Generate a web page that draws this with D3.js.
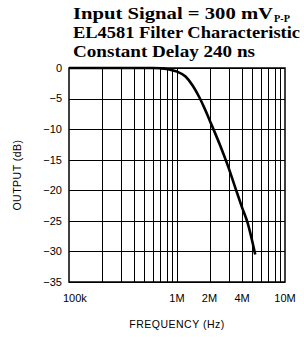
<!DOCTYPE html>
<html>
<head>
<meta charset="utf-8">
<script src="https://cdn.jsdelivr.net/npm/d3@7"></script>
<style>
  body { margin: 0; background: #fff; }
  text { fill: #000; }
</style>
</head>
<body>
<div id="chart"></div>
<script>
// chart data
let freqs = [1e5, 2e5, 4e5, 6e5, 7e5, 8e5, 9e5, 1e6, 1.2e6, 1.4e6, 1.6e6, 1.8e6, 2e6,
    2.5e6, 3e6, 3.5e6, 4e6, 4.5e6, 5e6, 5.3e6];
let outputDb = [0, 0, 0, 0, -0.05, -0.15, -0.35, -0.6, -1.4, -2.9, -4.7, -6.6, -8.5,
    -12.6, -16.3, -19.8, -22.8, -25.3, -28.5, -30.5];
let yTicks = [0, -5, -10, -15, -20, -25, -30, -35];
let xGrid = [2e5, 3e5, 4e5, 5e5, 6e5, 7e5, 8e5, 9e5, 1e6, 2e6, 3e6, 4e6, 5e6, 6e6, 7e6, 8e6, 9e6];
let xLabels = [[1e5, '100k'], [1e6, '1M'], [2e6, '2M'], [4e6, '4M'], [1e7, '10M']];
let titleLines = ['EL4581 Filter Characteristic', 'Constant Delay 240 ns'];

let svgWidth = 304;
let svgHeight = 337;
let margin = { top: 68, right: 19, bottom: 55, left: 69 };
let width = svgWidth - margin.left - margin.right;
let height = svgHeight - margin.top - margin.bottom;

let svg = d3.select('#chart').append('svg')
    .attr('width', svgWidth)
    .attr('height', svgHeight);

let g = svg.append('g')
    .attr('transform', `translate(${margin.left}, ${margin.top})`);

let x = d3.scaleLog().domain([1e5, 1e7]).range([0, width]);
let y = d3.scaleLinear().domain([-35, 0]).range([height, 0]);

// grid (snapped to the pixel grid so lines stay dark)
g.selectAll('.vgrid').data(xGrid).enter().append('line')
    .attr('x1', d => Math.round(x(d)) + 0.5).attr('x2', d => Math.round(x(d)) + 0.5)
    .attr('y1', 0).attr('y2', height)
    .attr('stroke', '#000').attr('stroke-width', 1);

g.selectAll('.hgrid').data(yTicks).enter().append('line')
    .attr('x1', 0).attr('x2', width)
    .attr('y1', d => Math.round(y(d)) + 0.5).attr('y2', d => Math.round(y(d)) + 0.5)
    .attr('stroke', '#000').attr('stroke-width', 1);

// frame
g.append('rect')
    .attr('width', width).attr('height', height)
    .attr('fill', 'none').attr('stroke', '#000').attr('stroke-width', 1.5);

// y tick labels
g.selectAll('.ylab').data(yTicks).enter().append('text')
    .attr('x', -7)
    .attr('y', d => y(d))
    .attr('dy', '0.35em')
    .attr('text-anchor', 'end')
    .attr('font-family', 'Liberation Sans, Arial, sans-serif')
    .attr('font-size', '11px')
    .text(d => d === 0 ? '0' : '\u2212' + Math.abs(d));

// x tick labels
g.selectAll('.xlab').data(xLabels).enter().append('text')
    .attr('x', d => d[0] === 1e5 ? x(d[0]) - 6 : x(d[0]))
    .attr('y', height + 20)
    .attr('text-anchor', d => d[0] === 1e5 ? 'start' : 'middle')
    .attr('font-family', 'Liberation Sans, Arial, sans-serif')
    .attr('font-size', '11px')
    .text(d => d[1]);

// axis titles
svg.append('text')
    .attr('transform', `translate(21, ${margin.top + height / 2}) rotate(-90)`)
    .attr('text-anchor', 'middle')
    .attr('font-family', 'Liberation Sans, Arial, sans-serif')
    .attr('font-size', '10.5px')
    .attr('letter-spacing', '0.5px')
    .text('OUTPUT (dB)');

svg.append('text')
    .attr('x', margin.left + x(1e6))
    .attr('y', 328)
    .attr('text-anchor', 'middle')
    .attr('font-family', 'Liberation Sans, Arial, sans-serif')
    .attr('font-size', '10.5px')
    .attr('letter-spacing', '0.5px')
    .text('FREQUENCY (Hz)');

// curve
let line = d3.line()
    .x((d, i) => x(freqs[i]))
    .y(d => y(d))
    .curve(d3.curveMonotoneX);

g.append('path')
    .datum(outputDb)
    .attr('d', line)
    .attr('fill', 'none')
    .attr('stroke', '#000')
    .attr('stroke-width', 2.6);

// title
let title = svg.append('g')
    .attr('font-family', 'Liberation Serif, Times New Roman, serif')
    .attr('font-weight', 'bold')
    .attr('font-size', '16px');

let t1 = title.append('text').attr('y', 19);
t1.append('tspan')
    .attr('x', 73)
    .attr('textLength', 200)
    .attr('lengthAdjust', 'spacingAndGlyphs')
    .text('Input Signal = 300 mV');
t1.append('tspan')
    .attr('x', 274)
    .attr('dy', 3)
    .attr('font-size', '11px')
    .attr('textLength', 16)
    .attr('lengthAdjust', 'spacingAndGlyphs')
    .text('P-P');

title.selectAll('.tline').data(titleLines).enter().append('text')
    .attr('x', 73)
    .attr('y', (d, i) => 38 + i * 19)
    .attr('textLength', (d, i) => i === 0 ? 227 : 182)
    .attr('lengthAdjust', 'spacingAndGlyphs')
    .text(d => d);
</script>
</body>
</html>
